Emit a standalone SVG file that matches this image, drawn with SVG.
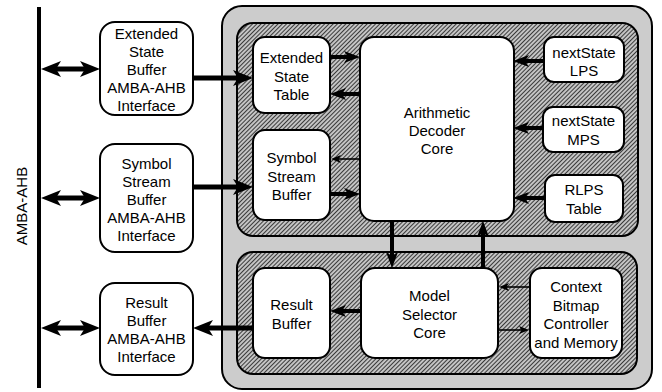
<svg xmlns="http://www.w3.org/2000/svg" width="662" height="392" viewBox="0 0 662 392">
<style>
text{font-family:"Liberation Sans",Arial,sans-serif;font-size:15px;fill:#000;text-anchor:middle}
.nd{fill:#fff;stroke:#000;stroke-width:2}
.thick{stroke:#000;stroke-width:5;fill:none}
.mid{stroke:#000;stroke-width:4;fill:none}
.thin{stroke:#000;stroke-width:1.6;fill:none}
</style>
<defs>
<pattern id="hatch" width="3" height="3" patternUnits="userSpaceOnUse" patternTransform="rotate(45)">
<rect width="3" height="3" fill="#c4c4c4"/>
<line x1="0.5" y1="0" x2="0.5" y2="3" stroke="#2a2a2a" stroke-width="0.9"/>
</pattern>
<marker id="big" markerUnits="userSpaceOnUse" viewBox="0 0 20 16" markerWidth="20" markerHeight="16" refX="10" refY="8" orient="auto-start-reverse"><path d="M0,0 L20,8 L0,16 L5,8 Z" fill="#000"/></marker>
<marker id="med" markerUnits="userSpaceOnUse" viewBox="0 0 16 12" markerWidth="16" markerHeight="12" refX="8" refY="6" orient="auto-start-reverse"><path d="M0,0 L16,6 L0,12 L4,6 Z" fill="#000"/></marker>
<marker id="sm" markerUnits="userSpaceOnUse" viewBox="0 0 10 8" markerWidth="10" markerHeight="8" refX="5" refY="4" orient="auto-start-reverse"><path d="M0,0 L10,4 L0,8 L2.5,4 Z" fill="#000"/></marker>
</defs>

<g id="bus">
<rect x="37" y="7" width="4" height="381" fill="#000"/>
<text transform="translate(27,206) rotate(-90)">AMBA-AHB</text>
</g>

<g id="container">
<rect x="222" y="6" width="430" height="383" rx="20" fill="#cccccc" stroke="#000" stroke-width="2"/>
<rect x="237" y="23" width="401" height="213" rx="16" fill="url(#hatch)" stroke="#000" stroke-width="2"/>
<rect x="237" y="252" width="400" height="122" rx="16" fill="url(#hatch)" stroke="#000" stroke-width="2"/>
</g>

<g id="connectors">
<line class="thick" x1="51" y1="69" x2="90" y2="69" marker-start="url(#big)" marker-end="url(#big)"/>
<line class="thick" x1="51" y1="198" x2="90" y2="198" marker-start="url(#big)" marker-end="url(#big)"/>
<line class="thick" x1="51" y1="328" x2="90" y2="328" marker-start="url(#big)" marker-end="url(#big)"/>
<line class="thick" x1="193" y1="78" x2="243" y2="78" marker-end="url(#big)"/>
<line class="thick" x1="193" y1="187" x2="243" y2="187" marker-end="url(#big)"/>
<line class="thick" x1="253" y1="328" x2="203" y2="328" marker-end="url(#big)"/>
<line class="mid" x1="330" y1="57" x2="352" y2="57" marker-end="url(#med)"/>
<line class="mid" x1="360" y1="94" x2="338" y2="94" marker-end="url(#med)"/>
<line class="thin" x1="360" y1="159" x2="336" y2="159" marker-end="url(#sm)"/>
<line class="mid" x1="330" y1="194" x2="352" y2="194" marker-end="url(#med)"/>
<line class="mid" x1="544" y1="61" x2="521" y2="61" marker-end="url(#med)"/>
<line class="mid" x1="543" y1="128" x2="521" y2="128" marker-end="url(#med)"/>
<line class="mid" x1="545" y1="198" x2="521" y2="198" marker-end="url(#med)"/>
<line class="mid" x1="392" y1="221" x2="392" y2="260" marker-end="url(#med)"/>
<line class="mid" x1="483" y1="268" x2="483" y2="229" marker-end="url(#med)"/>
<line class="mid" x1="361" y1="311" x2="338" y2="311" marker-end="url(#med)"/>
<line class="thin" x1="530" y1="287" x2="504" y2="287" marker-end="url(#sm)"/>
<line class="thin" x1="498" y1="330" x2="524" y2="330" marker-end="url(#sm)"/>
</g>

<g id="ext_buf_if">
<rect class="nd" x="100" y="22" width="93" height="93" rx="15"/>
<text x="146.5" y="39">Extended</text>
<text x="146.5" y="57">State</text>
<text x="146.5" y="75">Buffer</text>
<text x="146.5" y="93">AMBA-AHB</text>
<text x="146.5" y="111">Interface</text>
</g>
<g id="sym_buf_if">
<rect class="nd" x="100" y="144" width="93" height="108" rx="15"/>
<text x="146.5" y="168.5">Symbol</text>
<text x="146.5" y="186.5">Stream</text>
<text x="146.5" y="204.5">Buffer</text>
<text x="146.5" y="222.5">AMBA-AHB</text>
<text x="146.5" y="240.5">Interface</text>
</g>
<g id="res_buf_if">
<rect class="nd" x="100" y="283" width="93" height="92" rx="15"/>
<text x="146.5" y="307.5">Result</text>
<text x="146.5" y="325.5">Buffer</text>
<text x="146.5" y="343.5">AMBA-AHB</text>
<text x="146.5" y="361.5">Interface</text>
</g>

<g id="ext_state_table">
<rect class="nd" x="253" y="37" width="77" height="76" rx="12"/>
<text x="291.5" y="63">Extended</text>
<text x="291.5" y="81.5">State</text>
<text x="291.5" y="100">Table</text>
</g>
<g id="sym_stream_buf">
<rect class="nd" x="253" y="130" width="77" height="90" rx="12"/>
<text x="291.5" y="163">Symbol</text>
<text x="291.5" y="181.5">Stream</text>
<text x="291.5" y="200">Buffer</text>
</g>
<g id="arith_dec_core">
<rect class="nd" x="360" y="37" width="154" height="184" rx="14"/>
<text x="437" y="118">Arithmetic</text>
<text x="437" y="136">Decoder</text>
<text x="437" y="154">Core</text>
</g>
<g id="nextstate_lps">
<rect class="nd" x="544" y="37" width="80" height="45" rx="10"/>
<text x="584" y="58">nextState</text>
<text x="584" y="76">LPS</text>
</g>
<g id="nextstate_mps">
<rect class="nd" x="543" y="107" width="81" height="45" rx="10"/>
<text x="583.5" y="126">nextState</text>
<text x="583.5" y="145">MPS</text>
</g>
<g id="rlps_table">
<rect class="nd" x="545" y="175" width="78" height="47" rx="10"/>
<text x="584" y="195">RLPS</text>
<text x="584" y="214">Table</text>
</g>

<g id="result_buf">
<rect class="nd" x="253" y="268" width="77" height="90" rx="12"/>
<text x="291.5" y="310">Result</text>
<text x="291.5" y="328.5">Buffer</text>
</g>
<g id="model_sel_core">
<rect class="nd" x="361" y="268" width="137" height="90" rx="14"/>
<text x="429.5" y="301">Model</text>
<text x="429.5" y="319.5">Selector</text>
<text x="429.5" y="338">Core</text>
</g>
<g id="ctx_bitmap">
<rect class="nd" x="530" y="268" width="92" height="90" rx="12"/>
<text x="576" y="292">Context</text>
<text x="576" y="310.5">Bitmap</text>
<text x="576" y="329">Controller</text>
<text x="576" y="347.5">and Memory</text>
</g>
</svg>
